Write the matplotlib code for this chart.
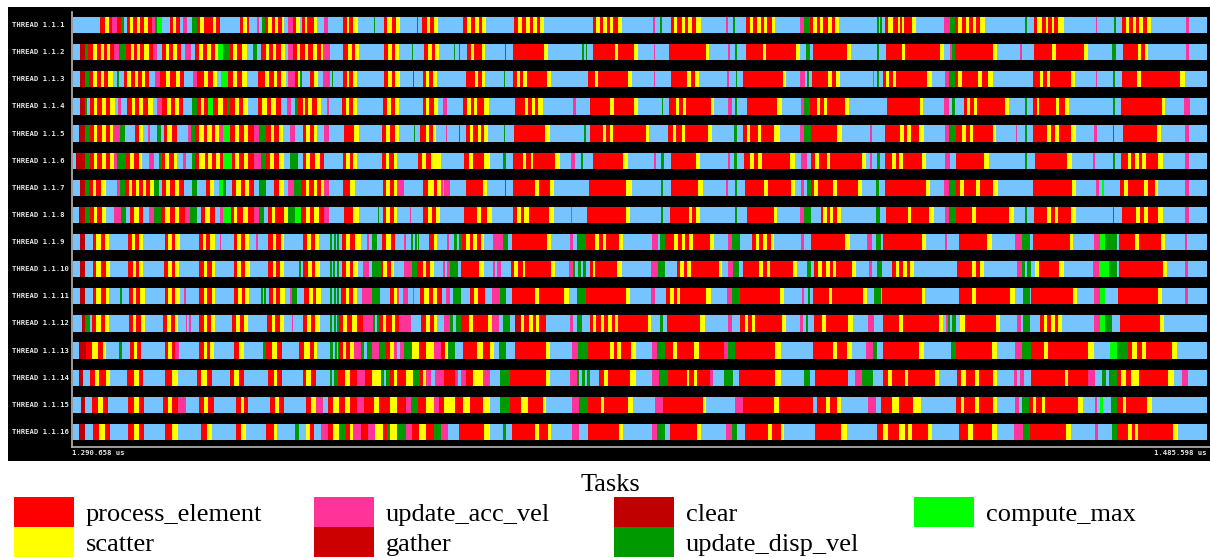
import numpy as np
import matplotlib
matplotlib.use("Agg")
import matplotlib.pyplot as plt
from matplotlib.patches import Rectangle
from matplotlib import transforms

# trace window (us)
t_start = 1290658
t_end = 1485598
n_bins = 1134  # trace sampled in equal time bins

tasks = ["process_element", "scatter", "update_acc_vel", "gather", "clear", "update_disp_vel", "compute_max"]
task_codes = ["r", "y", "p", "g", "c", "d", "m"]
task_colors = ["#FF0000", "#FFFF00", "#FF3399", "#CC0000", "#C00000", "#009900", "#00FF00"]
idle_color = "#75C3FF"

thread_names = ["THREAD 1.1.%d" % i for i in range(1, 17)]

# state changes per thread: <code><start bin>, b = idle
th1 = "b0 r27 y32 r36 p39 r44 d48 b51 r54 y57 r60 y64 r67 y71 r75 p79 d82 m84 b89 r97 y100 r103 b107 p110 b114 d119 r124 y127 r131 y140 r143 b147 r167 y170 r174 b176 p184 b186 d189 r192 y195 r199 y202 r205 y209 b211 p215 r220 y223 b227 r229 y232 r234 y241 b244 p251 b255 r270 y274 r276 y280 b285 d301 b302 r311 y314 r319 y323 b327 d344 b345 r349 y354 r357 y361 b365 r390 y394 r398 y402 r406 y409 b413 r441 y445 r449 y453 r457 y460 r464 y467 b471 r520 y523 r527 y530 r534 y537 r540 y545 b549 p580 b582 d587 b589 r598 y601 r604 y609 r612 y615 r619 y623 b628 p653 b655 d660 b662 r673 y677 r680 y684 r688 y691 r694 y699 b702 p727 d731 r737 y740 r744 y747 r750 y755 r759 y762 b766 d804 b806 d807 b809 r812 y815 r820 y825 r827 y829 r831 y839 b843 p871 d877 r882 y885 r889 y893 r896 y900 r903 y907 b912 d952 b954 r961 y964 r969 y973 r975 y979 r981 y985 b991 p1023 b1024 d1041 b1043 r1049 y1053 r1056 y1060 r1063 y1066 r1070 y1074 b1078 p1113 b1116"
th2 = "b0 c7 d12 r15 y20 r24 y28 r31 y34 r37 p41 d46 r53 y58 r61 y64 r67 y71 r76 p80 b84 r89 y93 r96 y100 r104 b108 p112 b118 r122 y126 r130 y134 r138 y142 m145 d150 r157 y160 r164 y169 b174 d180 b184 r188 y193 r196 y200 r203 y208 b212 p215 r220 y224 r227 y232 r235 y240 r244 y248 p250 b257 r270 y275 r279 y282 b286 r311 y315 r319 y322 b326 d339 b340 r351 y355 r359 y362 b366 d381 b382 d386 b387 r394 y398 r401 y409 b412 d432 b433 r440 y471 b475 d509 b511 d513 b514 r520 y542 r545 y561 b565 p581 b582 r596 y633 b636 p655 b657 d662 b664 r673 y690 r693 y723 b727 d733 b737 r740 y774 b778 d804 b806 r813 y829 r832 y867 b871 p877 d879 r882 y920 b924 p947 b949 r961 y979 r983 y1011 b1015 d1039 b1043 r1050 y1065 r1068 y1072 b1075 p1113 b1116"
th3 = "b0 c7 d12 r16 y20 r24 y28 r31 y35 b40 d44 b46 r51 y54 r58 y62 r65 y69 r72 b76 p82 r87 y93 r97 y103 r107 b111 p120 r124 y131 r135 y140 b144 m148 r155 y160 r164 y169 b174 r185 y192 r196 y201 r204 y208 b213 p215 r222 y225 d227 b229 r237 y241 b245 p250 b257 d259 b260 r270 y274 r276 y280 b284 r311 y315 r319 y322 b327 d340 b341 r350 y353 r356 y360 b364 r393 y402 r405 y409 b412 d431 b432 r440 y444 r447 y450 r454 y474 b478 r515 y522 r525 y555 b559 p581 b582 r598 y614 r618 y622 b626 p654 b656 d663 b664 r670 y710 b713 p727 b732 d734 b736 r739 y755 r759 y763 b767 p800 b801 d804 b806 r810 y813 r816 y820 r823 y854 b859 p872 d876 r882 y885 r889 y905 r909 y915 b920 r960 y967 r970 y974 r977 y998 b1002 p1023 b1024 d1040 b1042 r1049 y1064 r1068 y1107 b1112"
th4 = "b0 c7 d12 b14 r17 y21 r24 y29 r33 y37 b42 p45 b48 r54 y59 r62 y66 r70 y75 b80 p84 r89 y94 r98 y102 r106 b110 d119 r124 y128 r131 m135 r140 y145 r150 d154 r157 y162 r166 y170 b175 r185 y189 r194 y198 r203 b208 p214 b218 d222 r225 y230 r232 y235 r239 y244 b248 p254 b256 r269 y273 r276 y280 b284 r310 y314 r318 y322 b326 r350 y353 r356 y361 b365 p370 b374 r390 y394 r398 y401 r404 y411 b416 r442 y452 r455 y459 r462 y465 b470 p500 b503 r517 y537 r541 y561 b565 d589 b590 r596 y603 r606 y610 r613 y638 b641 p655 b659 d662 b664 r674 y704 b709 p728 d731 r737 y744 r747 y751 r754 y772 b776 r814 y847 b850 p871 b876 d879 b882 r891 y894 r897 y901 r904 y932 b936 d952 b954 r960 y964 r966 y983 r986 y992 b996 d1040 b1042 r1048 y1089 b1092 p1111 b1117"
th5 = "b0 c6 d12 r17 y21 r24 y29 r33 y37 p40 d47 b52 r62 y66 b70 p75 b77 d84 b88 r91 y94 r99 b104 p115 d118 r122 y126 r131 y134 r139 y142 p146 m150 r157 y162 r166 y171 r175 p181 d186 r193 y198 r201 y206 b210 p217 b222 r230 y233 r237 y241 b244 p251 b256 r271 y281 b286 r309 y313 r317 y322 b326 d341 b342 r347 y353 r356 y360 b363 p373 b374 d386 b387 r393 y397 r400 y405 r408 y411 b415 d431 b432 r441 y472 b477 d511 b513 r517 y530 r533 y537 r540 y573 b576 r595 y600 r603 y609 r612 y635 b639 d661 b664 r670 y674 r677 y685 r688 y701 b707 p727 d731 r738 y764 b769 p797 b799 r812 y827 r831 y834 r838 y846 b851 p872 d876 r883 y889 r893 y897 r900 y920 b923 p943 b944 d952 b954 r960 y974 r978 y982 r986 y998 b1003 p1021 b1024 d1040 b1041 r1050 y1084 b1088 p1112 b1116"
th6 = "b0 c3 d12 r17 y21 r24 y29 r33 y37 p41 d44 r53 y57 r61 y66 b69 p76 b81 d86 r89 y92 r96 y101 b104 p110 b113 d119 r122 y126 r132 y135 r139 y143 r147 m150 r159 y162 r166 y171 r175 p181 d188 r193 y197 r201 y206 b211 d217 b225 r230 y233 r237 y242 r247 b251 r270 y273 r277 y280 b284 r309 y313 r316 y321 b324 r345 y349 r353 y358 b368 r391 y396 r400 y411 b417 d430 b433 r440 y450 r453 y458 r460 y482 b487 p498 b502 d508 b510 r520 y550 b555 p581 b583 d588 b591 r598 y623 b627 p655 b657 d661 b664 r671 y677 r681 y685 r689 y717 b722 p728 b734 r738 y742 r746 y754 r757 y789 b793 p797 b799 d804 b807 r812 y819 r823 y826 r830 y849 b853 p872 b877 r883 y911 b916 d952 b954 r962 y994 b999 p1020 b1022 d1040 b1042 r1048 y1055 r1058 y1062 r1066 y1069 r1073 y1085 b1090 p1112 b1116"
th7 = "b0 c7 d12 r16 y20 r23 y28 b33 p44 d47 r52 y56 r59 y63 r66 y70 r73 y77 d81 b86 r89 y93 r97 y102 r106 b111 d119 b124 r133 y137 b141 m146 d150 b153 r159 y163 r168 y172 r176 b181 d186 b193 r201 y206 b211 p215 d221 r228 y233 r236 y241 r244 y248 p251 b256 r270 y277 b282 r310 y313 r317 y321 p324 b331 r350 y355 r361 y364 p368 b370 p371 b377 r393 y410 b414 d432 b433 r440 y462 r466 y477 b481 r516 y553 b559 d588 b590 r598 y625 b630 p653 b655 d662 b664 r672 y691 r695 y718 b722 p728 b731 d734 r738 y741 r745 y760 r764 y785 b789 d803 b806 r812 y853 b857 p871 d876 r883 y887 r891 y903 r907 y920 b925 r960 y999 b1003 p1023 b1026 m1029 b1031 r1047 y1051 r1055 y1071 r1075 y1082 b1085 p1112 b1116"
th8 = "b0 c6 d12 r17 y21 r24 y29 b33 p41 d48 b53 r57 y61 r66 b70 p76 d81 r88 y92 r97 y102 r106 p112 d117 b124 r128 y132 r137 b142 p147 m150 r158 y161 r164 y170 r175 p181 d186 b191 r195 y199 r202 y211 d215 m222 r228 y233 r237 y241 r246 p251 b256 r271 y280 b286 d305 b306 r310 y313 r317 y321 b324 p337 b338 r350 y355 r359 y363 b367 r391 y404 r408 y414 b419 r440 y444 r448 y451 r456 y476 b481 p498 b499 r514 y553 b557 d588 b590 r597 y616 r619 y623 b627 d662 b664 r674 y701 b704 p727 d731 b738 r748 y750 r754 y757 r760 y764 b768 d803 b807 r813 y835 r838 y856 b861 p872 d876 r883 y899 r903 y936 b941 d952 b954 r961 y974 r978 y982 r985 y998 b1003 d1040 b1041 r1049 y1063 r1067 y1071 r1075 y1085 b1090 p1112 b1116"
th9 = "b0 c7 b12 r20 y23 r28 y32 b36 r55 y59 r62 y66 b70 r92 y95 r99 y102 b107 r126 y130 r133 y137 b142 p147 b148 r161 y164 r168 y172 b176 p183 b185 r195 y200 r203 y208 b211 r230 y234 r238 y242 b246 d257 b259 d261 b263 d264 b266 r269 y273 r277 y282 b288 p294 b296 d299 b304 r309 y313 r318 b322 p331 b333 d338 b340 d342 b344 d345 b346 r356 y361 b364 p374 b376 d381 b384 d386 r389 y393 r397 y400 r404 y408 b411 p420 d430 b435 r439 y474 b478 p497 b500 d504 r513 y522 r526 y530 r533 y546 b550 p579 b585 d587 r592 y601 r605 y609 r612 y616 r620 y637 b641 p655 d659 b667 r679 y683 r686 y690 r694 y698 b701 p728 b731 r738 y772 b777 p794 b799 d803 b808 r810 y849 b853 p872 b874 r886 y914 b919 p942 d949 b957 r960 y997 b1000 p1021 m1027 d1032 b1044 r1046 y1062 r1066 y1088 b1092 p1112 b1114"
th10 = "b0 c7 b12 r20 y23 r28 y33 b37 r55 y60 r63 y66 b70 r91 y95 r99 y102 b106 r126 y131 r134 y139 b142 r161 y164 r168 y172 b177 r195 y200 r203 y207 b211 d226 b228 r230 y235 r239 y242 b247 d257 b259 d260 b262 d264 b266 r269 y273 r277 y280 b285 p290 b296 d299 r308 y310 r314 y318 b321 p331 d339 r344 y350 r353 y357 b361 p370 b372 p374 d377 b385 r388 y406 b411 p420 b422 p424 b428 r438 y441 r445 y450 r452 y478 b482 p496 d500 b502 d505 b508 d510 b513 r517 y520 r522 y544 b549 p578 d585 b592 r604 y607 r611 y614 r618 y646 b649 p655 d660 b666 r670 y686 r690 y694 r697 y720 b724 d734 b738 r741 y745 r749 y753 r757 y760 r763 y779 b783 p796 b799 d804 b809 r819 y823 r826 y830 r834 y837 b841 r884 y899 r903 y907 b911 p944 d949 b952 d954 b958 y962 r966 y986 b991 p1020 m1026 d1036 b1044 r1046 y1090 b1094 p1112 b1115"
th11 = "b0 c7 b12 r20 y23 r28 y33 b36 d47 b49 r56 y60 r63 y67 b72 r92 y95 r99 y102 b107 p111 b113 r126 y131 r134 y139 b142 r161 y165 r169 y172 b176 d188 b190 d191 b193 r196 y200 r203 y207 b212 p217 d219 b224 r231 y236 r240 y243 b248 d257 b259 d261 b263 d264 b266 r268 y273 r276 y280 b284 p289 d299 b307 r317 y321 p324 b326 p330 b335 p340 b341 r347 y351 r356 y360 r364 b369 p373 b377 d380 b388 r397 y401 r405 b412 p419 d427 b433 r439 y462 r466 y491 b496 d504 r513 y553 b557 p578 b582 r593 y597 r601 y604 r607 y633 b638 p654 d659 r667 y707 b711 p729 b731 d735 b737 r740 y756 r759 y790 b794 d801 b808 r809 y849 b852 r886 y899 r903 y937 b942 d950 b957 r958 y1000 b1004 p1021 m1027 b1032 r1045 y1085 b1089 p1112 b1115"
th12 = "b0 c9 d12 b17 r19 y23 r28 y32 b36 r56 y60 r63 y68 b72 r90 y94 r98 y102 b105 p113 b114 p116 b118 r126 y131 r134 y138 b142 r159 y163 r167 y171 b175 r194 y199 r202 y207 b211 p219 b220 r230 y234 r238 y242 b247 d257 b259 d261 b263 d264 r266 y270 r274 y279 r284 p290 d300 b302 d304 r306 y310 r313 y319 r322 p326 b338 r348 y353 r357 y361 b364 p371 d377 b380 d383 r388 y396 r400 y415 p419 b426 d430 b437 g442 y448 r451 y456 r460 y463 r466 b473 p497 b500 d504 b509 r517 y520 r523 y528 r531 y535 r539 y542 r545 y575 b578 d587 b590 r594 y627 b632 p655 b659 r667 y672 r675 y679 r682 y709 b713 p727 b730 d733 b735 r741 y749 r753 y775 b780 p795 b801 r810 y826 r830 y866 b870 p873 d875 b877 d879 b883 y887 r892 y923 b927 p944 b948 d950 b957 r967 y971 r974 y978 r982 y985 b989 p1021 m1027 d1032 b1039 r1047 y1087 b1091"
th13 = "b0 c6 r13 y19 r25 y30 b33 d46 b49 r57 y61 r64 b68 r92 y95 r99 p102 b106 r126 y131 r134 y137 b141 r161 y166 b171 d190 r193 y199 r204 b209 r226 y231 r237 y241 b244 d257 b260 d262 b264 d265 r266 y270 r273 y277 p281 d288 b291 d294 p299 d306 r313 y317 p321 b324 p327 d331 y339 r346 y353 p361 r368 y372 d375 b382 r390 y404 r410 y417 b421 d426 b433 r442 y473 b477 p499 d505 r515 y537 r541 y544 r548 y558 b563 p579 d584 r592 y600 r604 y621 r626 p651 d655 r662 y702 b708 r740 y760 r764 y774 b779 p793 d800 b804 r810 y846 b851 d878 r883 y919 b924 p942 d949 r958 y971 r975 y1015 b1021 m1037 d1044 r1055 y1059 r1064 y1069 r1073 y1099 b1104"
th14 = "b0 c6 b10 r17 y22 r26 y33 b37 r54 y61 r66 b70 r92 y99 b105 r124 y128 r134 b139 r157 y161 r166 b171 r195 y201 r204 b209 r230 y233 r238 b243 d257 b259 d261 r265 y272 r277 p284 r292 y299 d308 b311 d313 r317 y321 r324 y333 d340 r347 y350 p353 b358 p362 r371 p382 b385 p388 r393 y400 p410 b417 d427 r437 y473 b477 p497 d504 b506 d509 b512 d514 b517 r526 y531 r535 y557 b563 p579 d586 r595 y614 r616 y621 r624 p637 b640 d651 b660 r666 y702 b708 d731 b737 r742 b775 p782 d789 b800 r810 y815 r819 y832 r835 y862 b866 r884 y888 r893 y902 r906 y920 b924 p941 b944 p947 b951 r958 y992 r995 p1015 b1022 d1029 b1033 d1036 r1044 y1048 r1053 y1058 r1066 y1095 b1101 p1109 b1115"
th15 = "b0 c8 b12 r19 y25 r30 b35 r55 y61 r66 b71 r90 y95 r99 p105 b113 r126 y131 r135 b141 r163 y168 r171 b175 r197 y202 r206 b211 r233 y238 p243 b250 r255 y260 r266 y272 r277 p284 r291 y301 r306 y317 r324 p333 d338 r345 y353 p361 r366 y371 r382 y390 r397 y410 b417 d427 r437 y448 r455 y470 b473 p499 d506 r515 y528 r531 y555 b560 p582 r590 y630 b633 p662 r670 y701 r706 b740 r744 y753 r757 y764 b768 p795 b803 r808 y819 r826 y840 b848 r883 y888 r891 y902 r906 y920 b924 p942 b946 d949 r956 y960 r963 y969 r972 y1005 b1010 p1022 b1024 m1027 b1030 d1038 r1044 y1050 r1053 y1074 b1079"
th16 = "b0 c6 b12 r20 y26 r32 b37 r55 y61 r66 b71 r92 y99 b105 r128 y134 b139 r163 y168 b173 r193 y201 b204 d222 b226 y233 r237 b241 p248 r255 y260 d266 r273 y277 p280 r288 p295 y302 r310 d314 y317 d324 p333 r339 y346 r353 d361 p368 b375 r386 y411 b417 d430 b433 r439 y462 r466 y475 b478 p499 b506 r515 y546 b550 p579 d584 b592 r597 y624 b628 p653 d659 b664 r672 y695 r699 y708 b711 r742 y768 b774 r804 y810 r815 y826 r832 y835 r839 y855 b859 r886 y895 r900 y919 b924 p941 d950 r957 y993 b998 p1022 b1025 d1039 r1044 y1055 r1059 y1062 r1065 y1100 b1105"
threads = [th1, th2, th3, th4, th5, th6, th7, th8, th9, th10, th11, th12, th13, th14, th15, th16]

bin_us = (t_end - t_start) / n_bins
code_color = dict(zip(task_codes, task_colors))

W, H = 1210, 558
fig = plt.figure(figsize=(W / 100, H / 100), dpi=100)
fig.patch.set_facecolor("white")

# black paraver window
fig.add_artist(Rectangle((8 / W, 1 - 461 / H), 1202 / W, 454 / H, transform=fig.transFigure,
                         facecolor="black", edgecolor="none", zorder=0))

ax = fig.add_axes([72 / W, 1 - 447 / H, (W - 72) / W, 435 / H])
ax.set_facecolor("black")
ax.set_xlim(t_start - 1 * bin_us, t_end + 3 * bin_us)
ax.set_ylim(15.555, -0.479)
bar_h = 0.6

for i, s in enumerate(threads):
    toks = s.split()
    codes = [t[0] for t in toks]
    starts = [int(t[1:]) for t in toks]
    ends = starts[1:] + [n_bins]
    # idle background for the whole row, then the task bursts
    ax.broken_barh([(t_start, t_end - t_start)], (i - bar_h / 2, bar_h),
                   facecolors=idle_color, antialiased=False)
    for code in task_codes:
        segs = [(t_start + a * bin_us, (b - a) * bin_us) for c, a, b in zip(codes, starts, ends) if c == code]
        if segs:
            ax.broken_barh(segs, (i - bar_h / 2, bar_h), facecolors=code_color[code], antialiased=False)

for sp in ["top", "right"]:
    ax.spines[sp].set_visible(False)
for sp in ["left", "bottom"]:
    ax.spines[sp].set_color("#B8B8B8")
    ax.spines[sp].set_linewidth(1.2)
ax.set_xticks([])
ax.set_yticks([])

lab_tr = transforms.blended_transform_factory(fig.transFigure, ax.transData)
for i, name in enumerate(thread_names):
    ax.text(12 / W, i, name, transform=lab_tr, ha="left", va="center", color="#E6E6E6",
            family="DejaVu Sans Mono", fontsize=5.2, fontweight="bold", clip_on=False)

fig.text(72 / W, 1 - 453 / H, "{:,}".format(t_start).replace(",", ".") + " us", ha="left", va="center",
         color="#E6E6E6", family="DejaVu Sans Mono", fontsize=5.2, fontweight="bold")
fig.text(1207 / W, 1 - 453 / H, "{:,}".format(t_end).replace(",", ".") + " us", ha="right", va="center",
         color="#E6E6E6", family="DejaVu Sans Mono", fontsize=5.2, fontweight="bold")

# legend drawn by hand: 4 equal columns, 2 rows
fig.text(610 / W, 1 - 491 / H, "Tasks", ha="center", va="baseline", family="Liberation Serif", fontsize=19)
for k, (name, col) in enumerate(zip(tasks, task_colors)):
    cx = 14 + 300 * (k // 2)
    ry = 497 + 30 * (k % 2)
    fig.add_artist(Rectangle((cx / W, 1 - (ry + 30) / H), 60 / W, 30 / H, transform=fig.transFigure,
                             facecolor=col, edgecolor="none"))
    fig.text((cx + 72) / W, 1 - (ry + 24) / H, name, ha="left", va="baseline",
             family="Liberation Serif", fontsize=19)

fig.savefig("out.png", dpi=100, facecolor="white")
